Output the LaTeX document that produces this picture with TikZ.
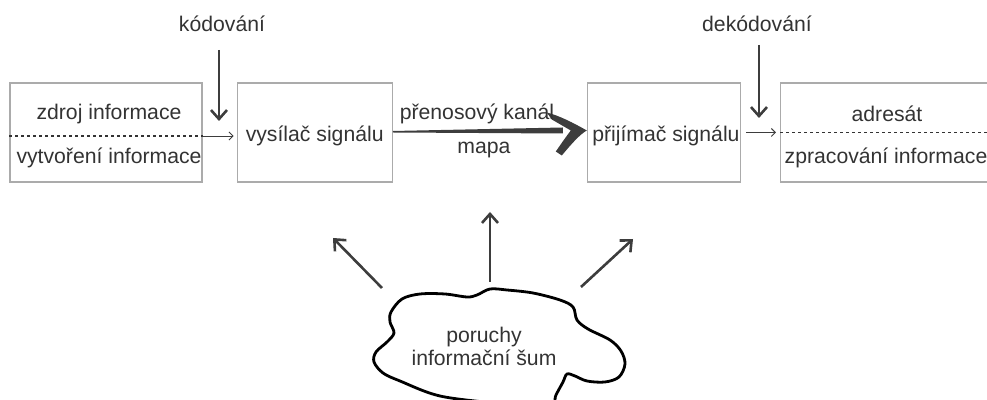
\documentclass[tikz,border=0pt]{standalone}
\usepackage{fontspec}
\setmainfont{Liberation Sans}
\usetikzlibrary{positioning,arrows.meta,calc}

\definecolor{ramecek}{HTML}{ABABAB}
\definecolor{sipkova}{HTML}{3D3D3D}
\definecolor{pismo}{HTML}{333333}

\begin{document}
\begin{tikzpicture}[x=0.5pt, y=-0.5pt,
    blok/.style={draw=ramecek, line width=0.6pt, minimum height=49.5pt, inner sep=0pt},
    popis/.style={text=pismo, font=\fontsize{10.6}{11.5}\selectfont, inner sep=0pt},
    tecky/.style={draw=pismo, line width=0.8pt, dash pattern=on 1.4pt off 1.6pt},
    tenka/.style={-{Straight Barb[length=2pt,width=4pt]}, draw=sipkova, line width=0.45pt},
    silna/.style={-{Straight Barb[length=4.5pt,width=8pt]}, draw=sipkova, line width=1.3pt},
    mrak/.style={draw=black, line width=1.4pt}]
  \useasboundingbox (0,0) rectangle (987,400);
  \clip (0,0) rectangle (987,400);

  % bloky retezce
  \node[blok, minimum width=96pt] (zdroj) at (106,132.5) {};
  \node[blok, minimum width=77.5pt, right=17pt of zdroj] (vysilac) {};
  \node[blok, minimum width=76.5pt, right=97pt of vysilac] (prijimac) {};
  \node[blok, minimum width=120pt, right=19.5pt of prijimac] (adresat) {};

  \node[popis] (zdrojA) at (109,114) {zdroj informace};
  \node[popis] (zdrojB) at (109,158) {vytvoření informace};
  \node[popis] (vysilacT) at ([yshift=-1.5pt]vysilac.center) {vysílač signálu};
  \node[popis] (prijimacT) at ([xshift=1pt,yshift=-1.5pt]prijimac.center) {přijímač signálu};
  \node[popis] (adresatA) at (887,114) {adresát};
  \node[popis] (adresatB) at (886,158) {zpracování informace};

  \draw[tecky] ([yshift=-1.75pt]zdroj.west) -- ([yshift=-1.75pt]zdroj.east);
  \draw[tecky] (adresat.west) -- (adresat.east);
  \draw[tenka] ([yshift=-1.75pt]zdroj.east) -- ([yshift=-1.75pt,xshift=-1.5pt]vysilac.west);
  \draw[tenka] ([xshift=2.5pt]prijimac.east) -- ([xshift=-2pt]adresat.west);

  % kodovani / dekodovani
  \node[popis] (kodovani) at (222,24) {kódování};
  \node[popis] (dekodovani) at (757,24) {dekódování};
  \coordinate (kodZ) at (219,50);
  \coordinate (kodK) at (219,121);
  \coordinate (dekZ) at (759,45);
  \coordinate (dekK) at (759,118);
  \draw[silna] (kodZ) -- (kodK);
  \draw[silna] (dekZ) -- (dekK);

  % prenosovy kanal
  \coordinate (kanalK) at ([yshift=1pt]prijimac.west);
  \fill[sipkova] ([yshift=0.75pt]vysilac.east) -- ($(kanalK)+(-24,-3)$)
    -- ($(kanalK)+(-24,3)$) -- (vysilac.east) -- cycle;
  \fill[sipkova] (kanalK) .. controls ($(kanalK)+(-14,-8)$) and ($(kanalK)+(-28,-15)$) .. ($(kanalK)+(-40,-18)$)
    -- ($(kanalK)+(-35,-11)$) .. controls ($(kanalK)+(-25,-6)$) .. ($(kanalK)+(-16,0)$)
    .. controls ($(kanalK)+(-22,8)$) .. ($(kanalK)+(-31,21)$)
    -- ($(kanalK)+(-25,25)$) .. controls ($(kanalK)+(-15,13)$) and ($(kanalK)+(-7,4)$) .. (kanalK) -- cycle;
  \node[popis] (kanal) at (477,114) {přenosový kanál};
  \node[popis] (mapa) at (484,150) {mapa};

  % oblak se sumem
  \draw[mrak] plot[smooth cycle, tension=0.55] coordinates {
    (391,312) (402,299) (420,294) (445,294) (467,297) (477,295) (490,289)
    (507,290) (533,293) (560,300) (573,307) (577,320) (588,329) (610,340)
    (621,351) (625,364) (619,377) (605,382) (587,381) (575,376) (567,374)
    (563,382) (556,395) (548,412) (500,404) (440,396) (400,381) (383,373)
    (374,362) (376,352) (387,342) (394,333) (390,322)};
  \node[popis, align=center] (sum) at (484,346) {poruchy\\informační šum};

  \coordinate (rusL) at (382,288);
  \coordinate (rusLk) at (333,238);
  \coordinate (rusS) at (490,282);
  \coordinate (rusSk) at (490,212);
  \coordinate (rusP) at (581,287);
  \coordinate (rusPk) at (633,239);
  \draw[silna] (rusL) -- (rusLk);
  \draw[silna] (rusS) -- (rusSk);
  \draw[silna] (rusP) -- (rusPk);
\end{tikzpicture}
\end{document}
